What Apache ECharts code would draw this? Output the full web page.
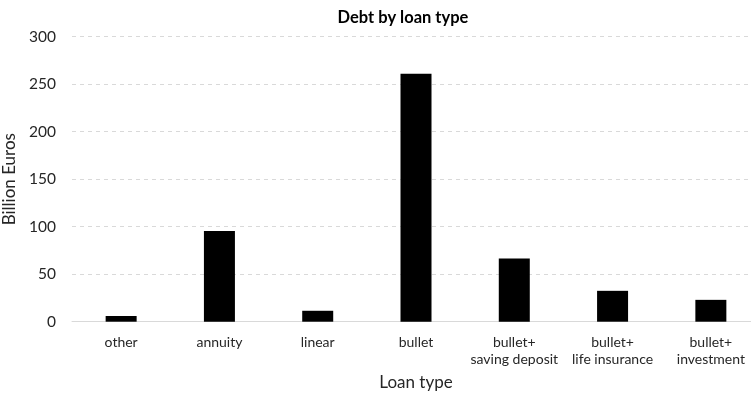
<!DOCTYPE html>
<html>
<head>
<meta charset="utf-8">
<script src="https://cdn.jsdelivr.net/npm/echarts@6/dist/echarts.min.js"></script>
<style>
  html, body { margin: 0; padding: 0; background: #fff; }
  #chart { width: 751px; height: 398px; }
</style>
</head>
<body>
<div id="chart"></div>
<script>
// Outstanding mortgage debt per loan type (billion euros)
const categories = ['other', 'annuity', 'linear', 'bullet',
  'bullet+\nsaving deposit', 'bullet+\nlife insurance', 'bullet+\ninvestment'];
const debtValues = [6, 95.5, 11.5, 261, 66.5, 32.5, 23];
const yTicks = { min: 0, max: 300, interval: 50 };

const FONT = 'Lato, "Open Sans", sans-serif';
const chart = echarts.init(document.getElementById('chart'), null, { renderer: 'canvas' });

chart.setOption({
  animation: false,
  textStyle: { fontFamily: FONT },
  title: {
    text: 'Debt by loan type',
    left: 398, top: 4, textAlign: 'center',
    textStyle: { fontFamily: FONT, fontSize: 16.5, fontWeight: 'bold', color: '#000' }
  },
  // the plot runs a little past the right edge of the canvas
  grid: { left: 72, top: 36.7, width: 688, height: 285, containLabel: false, outerBoundsMode: 'none' },
  xAxis: {
    type: 'category',
    data: categories,
    name: 'Loan type',
    nameLocation: 'middle',
    nameGap: 52,
    nameTextStyle: { fontFamily: FONT, fontSize: 17, color: '#262626' },
    axisLine: { lineStyle: { color: '#d9d9d9', width: 1 } },
    axisTick: { show: false },
    axisLabel: {
      interval: 0, margin: 12, fontSize: 14, color: '#262626',
      lineHeight: 17, fontFamily: FONT
    }
  },
  yAxis: {
    type: 'value',
    min: yTicks.min, max: yTicks.max, interval: yTicks.interval,
    name: 'Billion Euros',
    nameLocation: 'middle',
    nameGap: 47,
    nameTextStyle: { fontFamily: FONT, fontSize: 17, color: '#262626' },
    axisLine: { show: false },
    axisTick: { show: false },
    axisLabel: { margin: 16, fontSize: 15.5, color: '#262626', fontFamily: FONT },
    splitLine: { lineStyle: { color: '#d9d9d9', type: [4, 4], width: 1 } }
  },
  series: [{
    type: 'bar',
    data: debtValues,
    barWidth: 31,
    itemStyle: { color: '#000' }
  }]
});
</script>
</body>
</html>
